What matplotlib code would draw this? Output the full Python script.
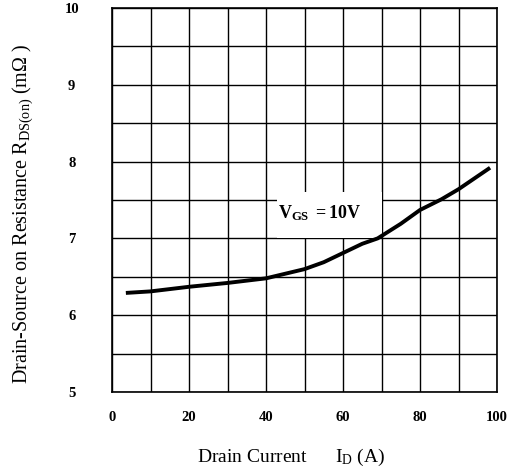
import matplotlib
matplotlib.use("Agg")
import matplotlib.pyplot as plt
from matplotlib.patches import Rectangle

plt.rcParams['font.family'] = ['Liberation Serif', 'DejaVu Serif']
plt.rcParams['mathtext.fontset'] = 'custom'
plt.rcParams['mathtext.rm'] = 'Liberation Serif'
plt.rcParams['mathtext.it'] = 'Liberation Serif:italic'
plt.rcParams['mathtext.bf'] = 'Liberation Serif:bold'

# Data
drain_current = [3.6, 10, 20, 30, 40, 50, 55, 60, 65, 69, 75, 80, 85.6, 90, 98.2]
rds_on = [6.29, 6.31, 6.37, 6.42, 6.48, 6.60, 6.69, 6.81, 6.93, 7.00, 7.19, 7.37, 7.51, 7.64, 7.92]

x_ticks = [0, 20, 40, 60, 80, 100]
y_ticks = [5, 6, 7, 8, 9, 10]
x_grid = list(range(0, 101, 10))
y_grid = [5 + 0.5 * i for i in range(11)]

fig = plt.figure(figsize=(5.09, 4.70), dpi=100)
ax = fig.add_axes([112 / 509, 1 - 392 / 470, 385 / 509, 384 / 470])
ax.set_xlim(0, 100)
ax.set_ylim(5, 10)

for xv in x_grid:
    ax.axvline(xv, color='black', lw=1.0, zorder=1)
for yv in y_grid:
    ax.axhline(yv, color='black', lw=1.0, zorder=1)

ax.add_patch(Rectangle((42.9, 7.005), 27.2, 0.6, facecolor='white', edgecolor='none', zorder=2))
ax.text(43.1, 7.33, r'$\mathbf{V_{GS}\ =10V}$', fontsize=13, ha='left', va='center', zorder=3)

ax.plot(drain_current, rds_on, color='black', lw=2.8, zorder=4, solid_capstyle='butt')

ax.set_xticks(x_ticks)
ax.set_yticks(y_ticks)
ax.set_xticklabels([str(v) for v in x_ticks], fontweight='bold', fontsize=10.5)
ax.set_yticklabels([str(v) for v in y_ticks], fontweight='bold', fontsize=10.5)
for lab in ax.get_yticklabels():
    lab.set_ha('center')
ax.tick_params(axis='both', length=0)
ax.tick_params(axis='y', pad=29)
ax.tick_params(axis='x', pad=14)

for sp in ax.spines.values():
    sp.set_linewidth(1.2)
    sp.set_color('black')

ax.set_xlabel(r'Drain Current      I$_{\mathrm{D}}$ (A)', fontsize=14, labelpad=16, x=0.465)
ax.set_ylabel(r'Drain-Source on Resistance R$_{\mathrm{DS(on)}}$ (m$\Omega$ )', fontsize=14.5, labelpad=21, y=0.465)

fig.savefig('out.png', dpi=100)
